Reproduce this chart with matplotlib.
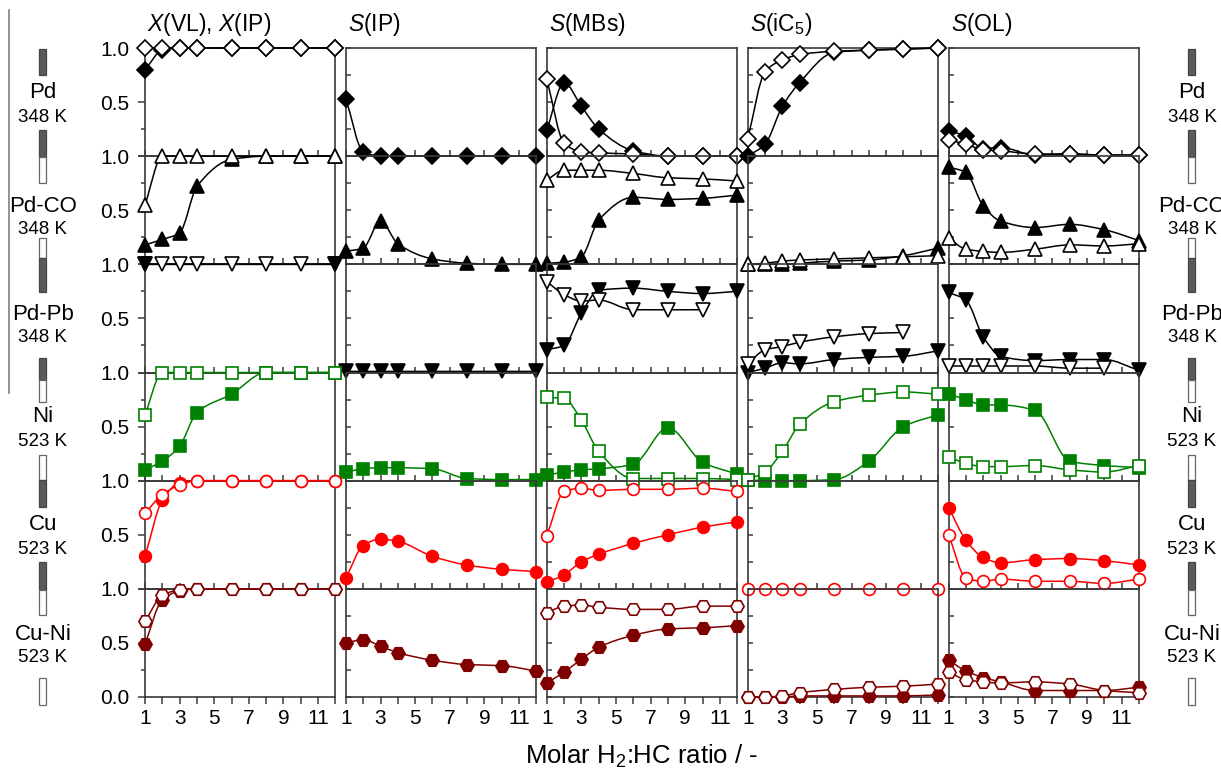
import numpy as np
import matplotlib
matplotlib.use('Agg')
import matplotlib.pyplot as plt
from matplotlib.path import Path
from matplotlib.patches import PathPatch, Rectangle
from matplotlib.lines import Line2D
from matplotlib.ticker import FixedLocator

plt.rcParams['font.family'] = ['Liberation Sans', 'DejaVu Sans']
plt.rcParams['mathtext.fontset'] = 'custom'
plt.rcParams['mathtext.rm'] = 'Liberation Sans'
plt.rcParams['mathtext.it'] = 'Liberation Sans:italic'

# molar H2:HC ratios
x8 = [1, 2, 3, 4, 6, 8, 10, 12]
x7 = [1, 2, 3, 4, 6, 8, 10]

# X(VL) (filled), X(IP) (open)
X_pd_o = [1.00, 1.00, 1.00, 1.00, 1.00, 1.00, 1.00, 1.00]
X_pd_f = [0.80, 0.98, 1.00, 1.00, 1.00, 1.00, 1.00, 1.00]
X_pdco_o = [0.55, 1.00, 1.00, 1.00, 1.00, 1.00, 1.00, 1.00]
X_pdco_f = [0.18, 0.23, 0.29, 0.72, 0.97, 1.00, 1.00, 1.00]
X_pdpb_o = [1.00, 1.00, 1.00, 1.00, 1.00, 1.00, 1.00, 1.00]
X_pdpb_f = [1.00, 1.00, 1.00, 1.00, 1.00, 1.00, 1.00, 1.00]
X_ni_o = [0.61, 1.00, 1.00, 1.00, 1.00, 1.00, 1.00, 1.00]
X_ni_f = [0.10, 0.18, 0.32, 0.63, 0.80, 1.00, 1.00, 1.00]
X_cu_o = [0.70, 0.87, 0.96, 1.00, 1.00, 1.00, 1.00, 1.00]
X_cu_f = [0.30, 0.82, 0.98, 1.00, 1.00, 1.00, 1.00, 1.00]
X_cuni_o = [0.70, 0.94, 0.99, 1.00, 1.00, 1.00, 1.00, 1.00]
X_cuni_f = [0.49, 0.90, 0.98, 1.00, 1.00, 1.00, 1.00, 1.00]

# S(IP)
SIP_pd_f = [0.53, 0.04, 0.00, 0.00, 0.00, 0.00, 0.00, 0.00]
SIP_pdco_f = [0.12, 0.15, 0.40, 0.19, 0.05, 0.01, 0.00, 0.00]
SIP_pdpb_f = [0.01, 0.01, 0.01, 0.01, 0.01, 0.01, 0.01, 0.01]
SIP_ni_f = [0.08, 0.11, 0.12, 0.12, 0.11, 0.02, 0.01, 0.01]
SIP_cu_f = [0.10, 0.40, 0.46, 0.44, 0.30, 0.22, 0.18, 0.16]
SIP_cuni_f = [0.50, 0.53, 0.47, 0.41, 0.34, 0.30, 0.29, 0.24]

# S(MBs)
SMB_pd_o = [0.71, 0.12, 0.04, 0.03, 0.02, 0.00, 0.00, 0.00]
SMB_pd_f = [0.24, 0.68, 0.46, 0.25, 0.05, 0.00, 0.00, 0.00]
SMB_pdco_o = [0.78, 0.87, 0.87, 0.87, 0.84, 0.80, 0.79, 0.77]
SMB_pdco_f = [0.01, 0.02, 0.07, 0.41, 0.62, 0.60, 0.61, 0.64]
SMB_pdpb_o = [0.84, 0.72, 0.66, 0.67, 0.58, 0.58, 0.58]
SMB_pdpb_f = [0.21, 0.25, 0.55, 0.76, 0.78, 0.75, 0.73, 0.75]
SMB_ni_o = [0.77, 0.76, 0.56, 0.27, 0.02, 0.02, 0.02, 0.01]
SMB_ni_f = [0.05, 0.08, 0.10, 0.11, 0.15, 0.49, 0.17, 0.06]
SMB_cu_o = [0.49, 0.90, 0.93, 0.91, 0.92, 0.92, 0.93, 0.90]
SMB_cu_f = [0.06, 0.13, 0.25, 0.32, 0.42, 0.50, 0.57, 0.62]
SMB_cuni_o = [0.78, 0.84, 0.85, 0.83, 0.81, 0.81, 0.84, 0.84]
SMB_cuni_f = [0.13, 0.23, 0.35, 0.46, 0.57, 0.63, 0.64, 0.66]

# S(iC5)
SIC_pd_o = [0.16, 0.78, 0.89, 0.94, 0.97, 0.98, 0.99, 1.00]
SIC_pd_f = [0.00, 0.11, 0.46, 0.68, 0.96, 0.98, 0.99, 1.00]
SIC_pdco_o = [0.00, 0.01, 0.03, 0.04, 0.05, 0.06, 0.07, 0.08]
SIC_pdco_f = [0.00, 0.00, 0.00, 0.01, 0.03, 0.04, 0.08, 0.15]
SIC_pdpb_o = [0.08, 0.21, 0.24, 0.28, 0.33, 0.36, 0.37]
SIC_pdpb_f = [0.00, 0.04, 0.09, 0.08, 0.12, 0.14, 0.15, 0.20]
SIC_ni_o = [0.01, 0.08, 0.27, 0.52, 0.73, 0.79, 0.82, 0.80]
SIC_ni_f = [0.01, 0.00, 0.00, 0.00, 0.01, 0.18, 0.50, 0.61]
SIC_cu_o = [0.00, 0.00, 0.00, 0.00, 0.00, 0.00, 0.00, 0.00]
SIC_cuni_o = [0.00, 0.00, 0.01, 0.04, 0.07, 0.09, 0.10, 0.12]
SIC_cuni_f = [0.00, 0.00, 0.00, 0.01, 0.01, 0.01, 0.01, 0.02]

# S(OL)
SOL_pd_o = [0.15, 0.11, 0.06, 0.05, 0.02, 0.02, 0.01, 0.01]
SOL_pd_f = [0.23, 0.19, 0.07, 0.08, 0.01, 0.02, 0.01, 0.01]
SOL_pdco_o = [0.24, 0.14, 0.12, 0.11, 0.14, 0.18, 0.17, 0.19]
SOL_pdco_f = [0.90, 0.85, 0.54, 0.40, 0.34, 0.37, 0.32, 0.22]
SOL_pdpb_o = [0.06, 0.06, 0.06, 0.06, 0.06, 0.04, 0.04]
SOL_pdpb_f = [0.74, 0.67, 0.33, 0.15, 0.11, 0.12, 0.12, 0.02]
SOL_ni_o = [0.22, 0.16, 0.13, 0.13, 0.14, 0.10, 0.08, 0.14]
SOL_ni_f = [0.80, 0.75, 0.70, 0.70, 0.65, 0.18, 0.14, 0.12]
SOL_cu_o = [0.50, 0.10, 0.07, 0.09, 0.07, 0.07, 0.05, 0.09]
SOL_cu_f = [0.75, 0.45, 0.29, 0.24, 0.27, 0.28, 0.26, 0.22]
SOL_cuni_o = [0.23, 0.16, 0.14, 0.13, 0.14, 0.12, 0.06, 0.04]
SOL_cuni_f = [0.34, 0.24, 0.18, 0.14, 0.06, 0.06, 0.06, 0.09]

catalysts = ['Pd', 'Pd-CO', 'Pd-Pb', 'Ni', 'Cu', 'Cu-Ni']
temps = ['348 K', '348 K', '348 K', '523 K', '523 K', '523 K']
titles = [r'$\mathit{X}$(VL), $\mathit{X}$(IP)', r'$\mathit{S}$(IP)', r'$\mathit{S}$(MBs)',
          r'$\mathit{S}$(iC$_5$)', r'$\mathit{S}$(OL)']

# (open x, open y, filled x, filled y) per row, per column
panels = [
    [(x8, X_pd_o, x8, X_pd_f), (None, None, x8, SIP_pd_f), (x8, SMB_pd_o, x8, SMB_pd_f),
     (x8, SIC_pd_o, x8, SIC_pd_f), (x8, SOL_pd_o, x8, SOL_pd_f)],
    [(x8, X_pdco_o, x8, X_pdco_f), (None, None, x8, SIP_pdco_f), (x8, SMB_pdco_o, x8, SMB_pdco_f),
     (x8, SIC_pdco_o, x8, SIC_pdco_f), (x8, SOL_pdco_o, x8, SOL_pdco_f)],
    [(x8, X_pdpb_o, x8, X_pdpb_f), (None, None, x8, SIP_pdpb_f), (x7, SMB_pdpb_o, x8, SMB_pdpb_f),
     (x7, SIC_pdpb_o, x8, SIC_pdpb_f), (x7, SOL_pdpb_o, x8, SOL_pdpb_f)],
    [(x8, X_ni_o, x8, X_ni_f), (None, None, x8, SIP_ni_f), (x8, SMB_ni_o, x8, SMB_ni_f),
     (x8, SIC_ni_o, x8, SIC_ni_f), (x8, SOL_ni_o, x8, SOL_ni_f)],
    [(x8, X_cu_o, x8, X_cu_f), (None, None, x8, SIP_cu_f), (x8, SMB_cu_o, x8, SMB_cu_f),
     (x8, SIC_cu_o, None, None), (x8, SOL_cu_o, x8, SOL_cu_f)],
    [(x8, X_cuni_o, x8, X_cuni_f), (None, None, x8, SIP_cuni_f), (x8, SMB_cuni_o, x8, SMB_cuni_f),
     (x8, SIC_cuni_o, x8, SIC_cuni_f), (x8, SOL_cuni_o, x8, SOL_cuni_f)],
]

colors = ['black', 'black', 'black', '#008000', '#ff0000', '#800000']
markers = ['D', '^', 'v', 's', 'o', 'H']
msizes = [8, 10, 10, 8.5, 8.5, 9.5]
spine_col = '#3a3a3a'

W, H = 1221, 771


def smooth_line(ax, xs, ys, color):
    # monotone cubic through the points, drawn as bezier segments
    xs = np.asarray(xs, float)
    ys = np.asarray(ys, float)
    h = np.diff(xs)
    d = np.diff(ys) / h
    m = np.zeros_like(ys)
    m[0], m[-1] = d[0], d[-1]
    for k in range(1, len(xs) - 1):
        if d[k - 1] * d[k] > 0:
            w1 = 2 * h[k] + h[k - 1]
            w2 = h[k] + 2 * h[k - 1]
            m[k] = (w1 + w2) / (w1 / d[k - 1] + w2 / d[k])
    verts = [(xs[0], ys[0])]
    codes = [Path.MOVETO]
    for k in range(len(xs) - 1):
        verts += [(xs[k] + h[k] / 3, ys[k] + m[k] * h[k] / 3),
                  (xs[k + 1] - h[k] / 3, ys[k + 1] - m[k + 1] * h[k] / 3),
                  (xs[k + 1], ys[k + 1])]
        codes += [Path.CURVE4] * 3
    ax.add_patch(PathPatch(Path(verts, codes), fc='none', ec=color, lw=1.1,
                           clip_on=False, zorder=3))


def marks(ax, xs, ys, r, filled, every=None):
    c = colors[r]
    ax.add_line(Line2D(xs, ys, ls='none', marker=markers[r], ms=msizes[r],
                       mfc=c if filled else 'white', mec=c, mew=1.2,
                       markevery=every, clip_on=False, zorder=4 if filled else 5))


fig = plt.figure(figsize=(W / 100, H / 100), dpi=100)
gap = 10.5
pw = (1139 - 145 - 4 * gap) / 5
axes = fig.subplots(6, 5, gridspec_kw=dict(left=145 / W, right=1139 / W, top=1 - 48 / H,
                                           bottom=1 - 697 / H, wspace=gap / pw, hspace=0))

for r in range(6):
    for c in range(5):
        ax = axes[r, c]
        ax.set_facecolor('none')
        ax.set_xlim(1, 12)
        ax.set_ylim(0, 1)
        for s in ax.spines.values():
            s.set_color(spine_col)
            s.set_linewidth(1.2)
        ox, oy, fx, fy = panels[r][c]
        if fx is not None:
            smooth_line(ax, fx, fy, colors[r])
        if ox is not None:
            smooth_line(ax, ox, oy, colors[r])
        if fx is not None:
            if (r, c) == (2, 0):
                marks(ax, fx, fy, r, True, every=[0, len(fx) - 1])
                for ln in ax.lines:
                    ln.set_zorder(6)
            else:
                marks(ax, fx, fy, r, True)
        if ox is not None:
            marks(ax, ox, oy, r, False)

        ax.xaxis.set_major_locator(FixedLocator([1, 3, 5, 7, 9, 11]))
        ax.xaxis.set_minor_locator(FixedLocator([2, 4, 6, 8, 10, 12]))
        ax.yaxis.set_major_locator(FixedLocator([0, 0.5, 1.0]))
        ax.yaxis.set_minor_locator(FixedLocator([0.25, 0.75]))
        if r == 5:
            ax.tick_params(axis='x', which='both', direction='out', length=5, width=1.1,
                           color=spine_col, labelsize=15, pad=4)
        else:
            ax.tick_params(axis='x', which='both', direction='in', length=4.5, width=1.1,
                           color=spine_col, labelbottom=False)
        if c == 0:
            ax.tick_params(axis='y', which='major', direction='out', length=5, width=1.1,
                           color=spine_col, labelsize=15, pad=6)
            ax.tick_params(axis='y', which='minor', direction='out', length=3, width=1.1,
                           color=spine_col)
            ax.set_yticklabels(['0.0' if r == 5 else '', '0.5', '1.0'])
        else:
            ax.tick_params(axis='y', which='both', direction='in', length=3.5, width=1.1,
                           color=spine_col, labelleft=False)

# column titles
for c, t in enumerate(titles):
    left_px = 145 + c * (pw + gap) + 2
    fig.text(left_px / W, 1 - 24 / H, t, fontsize=16.5, ha='left', va='center')

fig.text(642 / W, 1 - 756 / H, 'Molar H$_2$:HC ratio / -', fontsize=18.5, ha='center', va='center')

# catalyst labels with reactor bars on both sides
name_y = [93, 206, 314, 417, 525, 634]
bars = [(49, 75, True), (130, 157, True), (157, 183, False), (238, 258, False),
        (258, 292, True), (358, 380, True), (380, 402, False), (455, 480, False),
        (480, 507, True), (562, 590, True), (590, 615, False), (678, 705, False)]
for cx in (43, 1192):
    for i in range(6):
        fig.text(cx / W, 1 - name_y[i] / H, catalysts[i], fontsize=16, ha='center', va='center')
        fig.text(cx / W, 1 - (name_y[i] + 24) / H, temps[i], fontsize=13.5, ha='center', va='center')
    for top, bot, dark in bars:
        fig.add_artist(Rectangle(((cx - 4) / W, 1 - bot / H), 7 / W, (bot - top) / H,
                                 transform=fig.transFigure,
                                 fc='#5a5a5a' if dark else 'white',
                                 ec='#444444' if dark else '#666666', lw=0.9))

fig.add_artist(Line2D([9 / W, 9 / W], [1 - 10 / H, 1 - 393 / H], transform=fig.transFigure,
                      color='#808080', lw=1.2))

fig.savefig('out.png', dpi=100)
